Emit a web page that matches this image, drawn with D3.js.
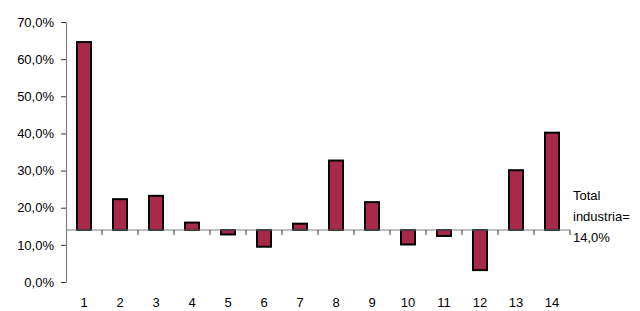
<!DOCTYPE html>
<html>
<head>
<meta charset="utf-8">
<script src="https://cdn.jsdelivr.net/npm/d3@7"></script>
<style>
  body { margin: 0; background: #fff; }
  svg text { font-family: Arial, "Liberation Sans", sans-serif; font-size: 13px; fill: #000; }
</style>
</head>
<body>
<svg id="chart" width="640" height="311"></svg>
<script>
// categories and values (share, %)
const categories = ['1', '2', '3', '4', '5', '6', '7', '8', '9', '10', '11', '12', '13', '14'];
const values = [64.6, 22.3, 23.2, 16.0, 12.8, 9.5, 15.7, 32.7, 21.5, 10.1, 12.4, 3.2, 30.1, 40.2];
const total = 14.0;
const yTicks = [0, 10, 20, 30, 40, 50, 60, 70];
const totalLabel = ['Total', 'industria='];

const svg = d3.select('#chart');
const mLeft = 66, mRight = 570, mTop = 22, mBottom = 282;

const locale = d3.formatLocale({ decimal: ',', thousands: '.', grouping: [3], currency: ['', '€'] });
const fmt = v => locale.format('.1f')(v) + '%';

const xb = d3.scaleBand().domain(categories).range([mLeft, mRight]);
const y = d3.scaleLinear().domain([0, 70]).range([mBottom, mTop]);

// y axis
const yAxis = svg.append('g')
    .attr('transform', `translate(${mLeft},0)`)
    .call(d3.axisLeft(y).tickValues(yTicks).tickFormat(fmt).tickSize(5).tickSizeOuter(0));
yAxis.select('.domain').attr('stroke', '#808080').attr('stroke-width', 1.2);
yAxis.selectAll('.tick line').attr('stroke', '#333');
yAxis.selectAll('.tick text').attr('x', -12).attr('fill', '#000')
    .style('font-family', 'Arial, "Liberation Sans", sans-serif').style('font-size', '13px');

// bars from baseline (total)
svg.selectAll('.bar')
    .data(values)
    .enter()
    .append('rect')
    .attr('class', 'bar')
    .attr('x', (d, i) => xb(categories[i]) + xb.bandwidth() / 2 - 7)
    .attr('width', 14)
    .attr('y', d => y(Math.max(d, total)))
    .attr('height', d => Math.abs(y(d) - y(total)))
    .attr('fill', '#A8284A')
    .attr('stroke', '#000')
    .attr('stroke-width', 2);

// x axis at total line
const xAxisY = y(total);
svg.append('line')
    .attr('x1', mLeft).attr('x2', mRight)
    .attr('y1', xAxisY).attr('y2', xAxisY)
    .attr('stroke', '#808080').attr('stroke-width', 1.2);
svg.selectAll('.xtick')
    .data(categories)
    .enter()
    .append('line')
    .attr('x1', d => xb(d) + xb.bandwidth()).attr('x2', d => xb(d) + xb.bandwidth())
    .attr('y1', xAxisY).attr('y2', xAxisY + 5)
    .attr('stroke', '#333');

// category labels
svg.selectAll('.xlabel')
    .data(categories)
    .enter()
    .append('text')
    .attr('x', d => xb(d) + xb.bandwidth() / 2)
    .attr('y', 307)
    .attr('text-anchor', 'middle')
    .text(d => d);

// total label
const lab = svg.append('text').attr('x', 573).attr('y', 200);
lab.append('tspan').attr('x', 573).attr('dy', 0).text(totalLabel[0]);
lab.append('tspan').attr('x', 573).attr('dy', 21).text(totalLabel[1]);
lab.append('tspan').attr('x', 573).attr('dy', 21).text(fmt(total));
</script>
</body>
</html>
